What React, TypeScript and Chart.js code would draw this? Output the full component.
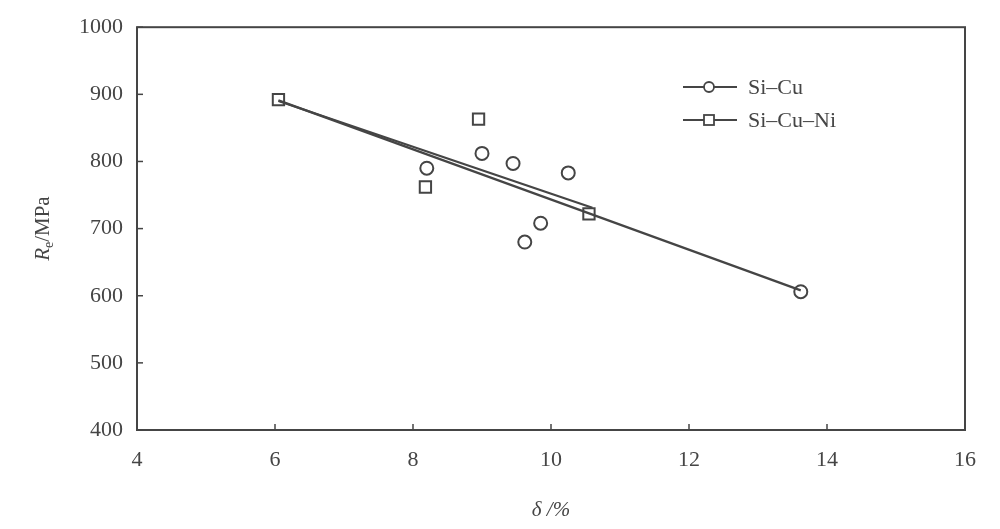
import React, { useEffect, useRef } from "react";
import { Chart, registerables } from "chart.js";
Chart.register(...registerables);

const siCuX = [8.2, 9.0, 9.45, 10.25, 9.85, 9.62, 13.62];
const siCuY = [790, 812, 797, 783, 708, 680, 606];
const siCuNiX = [6.05, 8.95, 8.18, 10.55];
const siCuNiY = [892, 863, 762, 722];
const siCuFitX = [6.05, 13.62];
const siCuFitY = [891, 608];
const siCuNiFitX = [6.05, 10.6];
const siCuNiFitY = [890, 731];
const xTicks = [4, 6, 8, 10, 12, 14, 16];
const yTicks = [400, 500, 600, 700, 800, 900, 1000];
const seriesNames = ["Si\u2013Cu", "Si\u2013Cu\u2013Ni"];

const INK = "#454545";
const FONT = "'Liberation Serif', 'Times New Roman', serif";

const toPts = (xs: number[], ys: number[]) => xs.map((x, i) => ({ x, y: ys[i] }));

const framePlugin = {
  id: "frame",
  afterDraw(chart: any) {
    const { ctx, chartArea: a, scales } = chart;
    ctx.save();
    ctx.strokeStyle = INK;
    ctx.lineWidth = 2;
    ctx.strokeRect(a.left, a.top, a.right - a.left, a.bottom - a.top);
    ctx.lineWidth = 1.5;
    xTicks.forEach((v) => {
      const px = scales.x.getPixelForValue(v);
      ctx.beginPath();
      ctx.moveTo(px, a.bottom);
      ctx.lineTo(px, a.bottom - 6);
      ctx.stroke();
    });
    yTicks.forEach((v) => {
      const py = scales.y.getPixelForValue(v);
      ctx.beginPath();
      ctx.moveTo(a.left, py);
      ctx.lineTo(a.left + 6, py);
      ctx.stroke();
    });
    // y title: R_e/MPa
    ctx.fillStyle = INK;
    ctx.translate(42, (a.top + a.bottom) / 2);
    ctx.rotate(-Math.PI / 2);
    ctx.textBaseline = "alphabetic";
    ctx.font = `italic 21px ${FONT}`;
    const wR = ctx.measureText("R").width;
    ctx.font = `14px ${FONT}`;
    const we = ctx.measureText("e").width;
    ctx.font = `21px ${FONT}`;
    const wM = ctx.measureText("/MPa").width;
    let x0 = -(wR + we + wM) / 2;
    const base = 7;
    ctx.font = `italic 21px ${FONT}`;
    ctx.fillText("R", x0, base);
    x0 += wR;
    ctx.font = `14px ${FONT}`;
    ctx.fillText("e", x0, base + 4);
    x0 += we;
    ctx.font = `21px ${FONT}`;
    ctx.fillText("/MPa", x0, base);
    ctx.restore();

    // x title
    ctx.save();
    ctx.fillStyle = INK;
    ctx.textBaseline = "middle";
    ctx.font = `italic 21px ${FONT}`;
    const cx = (a.left + a.right) / 2;
    const label = "\u03b4 /%";
    const w = ctx.measureText(label).width;
    ctx.fillText(label, cx - w / 2, 510);
    ctx.restore();

    // legend
    ctx.save();
    ctx.strokeStyle = INK;
    ctx.fillStyle = INK;
    ctx.lineWidth = 1.8;
    const rows = [87, 120];
    rows.forEach((ry, i) => {
      ctx.beginPath();
      ctx.moveTo(683, ry);
      ctx.lineTo(737, ry);
      ctx.stroke();
      ctx.fillStyle = "#ffffff";
      if (i === 0) {
        ctx.beginPath();
        ctx.arc(709, ry, 5, 0, Math.PI * 2);
        ctx.fill();
        ctx.stroke();
      } else {
        ctx.fillRect(704, ry - 5, 10, 10);
        ctx.strokeRect(704, ry - 5, 10, 10);
      }
      ctx.fillStyle = INK;
      ctx.font = `22px ${FONT}`;
      ctx.textBaseline = "middle";
      ctx.fillText(seriesNames[i], 748, ry + 1);
    });
    ctx.restore();
  },
};

export default function App() {
  const ref = useRef<HTMLCanvasElement | null>(null);
  useEffect(() => {
    if (!ref.current) return;
    const chart = new Chart(ref.current, {
      type: "scatter",
      data: {
        datasets: [
          {
            label: "fit1",
            data: toPts(siCuFitX, siCuFitY),
            showLine: true,
            borderColor: INK,
            borderWidth: 2.2,
            pointRadius: 0,
          },
          {
            label: "fit2",
            data: toPts(siCuNiFitX, siCuNiFitY),
            showLine: true,
            borderColor: INK,
            borderWidth: 2.2,
            pointRadius: 0,
          },
          {
            label: seriesNames[0],
            data: toPts(siCuX, siCuY),
            pointStyle: "circle",
            pointRadius: 6.5,
            borderWidth: 2,
            borderColor: INK,
            backgroundColor: "rgba(255,255,255,0)",
          },
          {
            label: seriesNames[1],
            data: toPts(siCuNiX, siCuNiY),
            pointStyle: "rect",
            pointRadius: 8,
            borderWidth: 2,
            borderColor: INK,
            backgroundColor: "rgba(255,255,255,0)",
          },
        ],
      },
      options: {
        animation: false,
        responsive: true,
        maintainAspectRatio: false,
        layout: { padding: { top: 25, right: 35, left: 0, bottom: 0 } },
        plugins: { legend: { display: false }, tooltip: { enabled: false } },
        scales: {
          x: {
            type: "linear",
            min: 4,
            max: 16,
            afterFit: (s: any) => { s.height = 99; },
            afterBuildTicks: (s: any) => { s.ticks = xTicks.map((v) => ({ value: v })); },
            grid: { display: false, drawTicks: false },
            border: { display: false },
            ticks: { color: INK, font: { family: FONT, size: 22 }, padding: 17, callback: (v: any) => String(v) },
          },
          y: {
            type: "linear",
            min: 400,
            max: 1000,
            afterFit: (s: any) => { s.width = 137; },
            afterBuildTicks: (s: any) => { s.ticks = yTicks.map((v) => ({ value: v })); },
            grid: { display: false, drawTicks: false },
            border: { display: false },
            ticks: { color: INK, font: { family: FONT, size: 22 }, padding: 14, callback: (v: any) => String(v) },
          },
        },
      },
      plugins: [framePlugin],
    });
    return () => chart.destroy();
  }, []);
  return (
    <div style={{ position: "fixed", left: 0, top: 0, width: 1000, height: 529, background: "#fff" }}>
      <canvas ref={ref} />
    </div>
  );
}
